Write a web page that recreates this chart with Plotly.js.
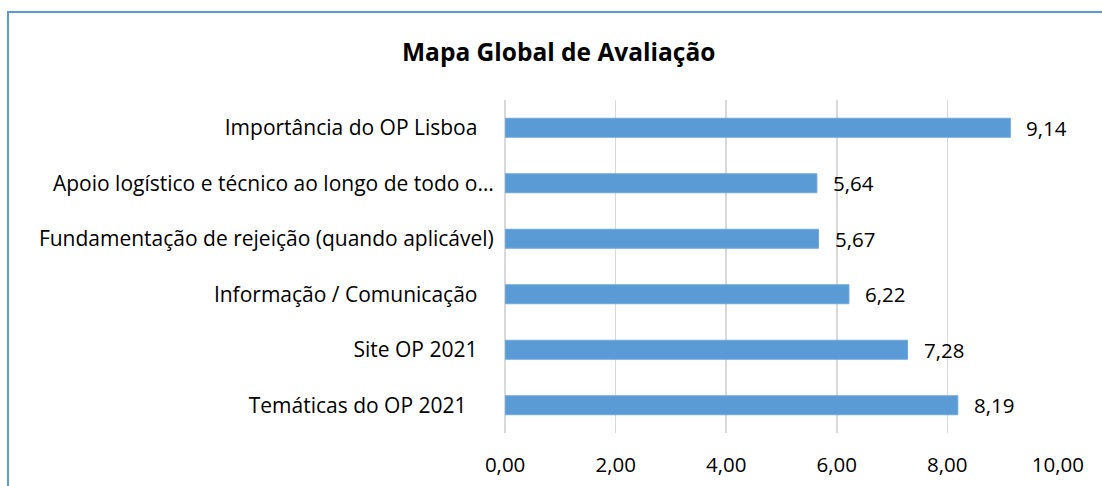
<!DOCTYPE html>
<html>
<head>
<meta charset="utf-8">
<script src="https://cdn.plot.ly/plotly-3.0.1.min.js"></script>
<style>
  html, body { margin: 0; padding: 0; background: #fff; }
  #wrap { position: relative; width: 1102px; height: 486px; overflow: hidden; }
  #chart { position: absolute; left: 0; top: 0; width: 1102px; height: 486px; }
  #frame { position: absolute; left: 7px; top: 11px; right: -5px; bottom: -5px;
           border-left: 2px solid #5b9bd5; border-top: 2px solid #5b9bd5; pointer-events: none; }
</style>
</head>
<body>
<div id="wrap"><div id="chart"></div><div id="frame"></div></div>
<script>
const categories = [
  "Importância do OP Lisboa\u00a0\u00a0\u00a0",
  "Apoio logístico e técnico ao longo de todo o…",
  "Fundamentação de rejeição (quando aplicável)",
  "Informação / Comunicação\u00a0\u00a0\u00a0",
  "Site OP 2021\u00a0\u00a0\u00a0",
  "Temáticas do OP 2021\u00a0\u00a0\u00a0\u00a0\u00a0"
];
const values = [9.14, 5.64, 5.67, 6.22, 7.28, 8.19];
const xTicks = [0, 2, 4, 6, 8, 10];
const chartTitle = "Mapa Global de Avaliação";

const FONT = "'Open Sans', sans-serif";
const BLUE = "#5b9bd5";

const trace = {
  type: "bar",
  orientation: "h",
  x: values,
  y: categories,
  marker: { color: BLUE, line: { color: "#6fa8dc", width: 1 } },
  hoverinfo: "none"
};

const annotations = values.map((v, i) => ({
  x: v, y: categories[i], xref: "x", yref: "y",
  text: v.toFixed(2).replace(".", ","),
  showarrow: false, xanchor: "left", yanchor: "middle",
  xshift: 14,
  font: { family: FONT, size: 20.5, color: "#000" }
}));

const layout = {
  width: 1102, height: 486,
  margin: { l: 505, r: 44, t: 100, b: 53 },
  paper_bgcolor: "#fff", plot_bgcolor: "#fff",
  separators: ",.",
  showlegend: false,
  bargap: 0.658,
  title: {
    text: "<b>" + chartTitle + "</b>",
    font: { family: FONT, size: 24.5, color: "#000" },
    xref: "container", x: 0.507, xanchor: "center",
    yref: "container", y: 1 - 52 / 486, yanchor: "middle"
  },
  xaxis: {
    range: [-0.002, 10.002],
    tickmode: "array", tickvals: xTicks,
    tickformat: ".2f",
    showgrid: true, gridcolor: "#d9d9d9", gridwidth: 1.5,
    zeroline: true, zerolinecolor: "#d9d9d9", zerolinewidth: 1.5,
    showline: false,
    ticks: "outside", ticklen: 13, tickcolor: "rgba(0,0,0,0)",
    tickfont: { family: FONT, size: 20.5, color: "#000" },
    fixedrange: true
  },
  yaxis: {
    autorange: "reversed",
    type: "category",
    showgrid: false, zeroline: false, showline: false,
    ticks: "outside", ticklen: 6, tickcolor: "rgba(0,0,0,0)",
    tickfont: { family: FONT, size: 21, color: "#000" },
    fixedrange: true
  },
  annotations: annotations
};

Plotly.newPlot("chart", [trace], layout, { displayModeBar: false, staticPlot: true });
</script>
</body>
</html>
